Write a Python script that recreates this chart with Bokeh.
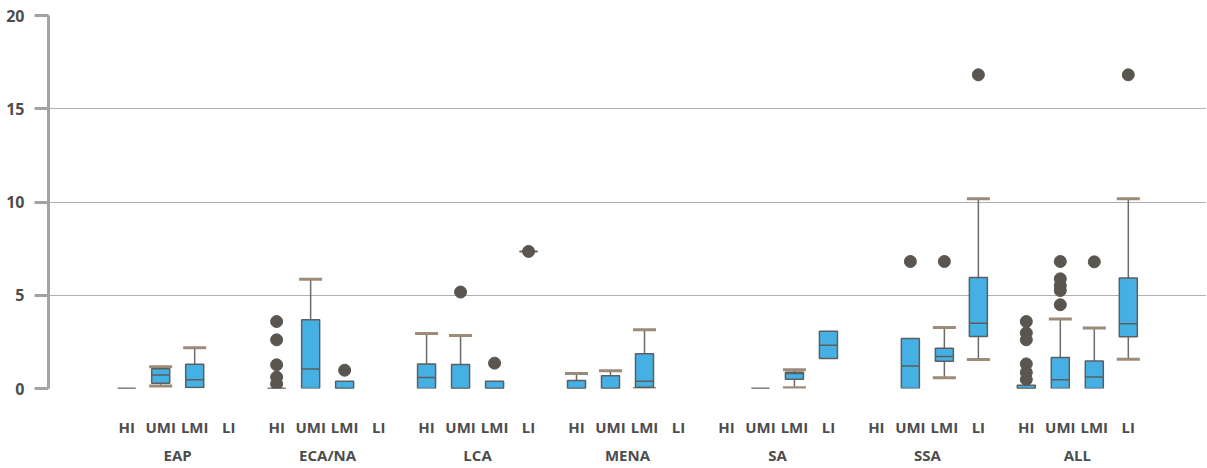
import math
from bokeh.plotting import figure
from bokeh.models import FactorRange, Range1d, FixedTicker, ColumnDataSource
from bokeh.embed import file_html
from bokeh.resources import INLINE

groups = ["EAP", "ECA/NA", "LCA", "MENA", "SA", "SSA", "ALL"]
levels = ["HI", "UMI", "LMI", "LI"]

# box statistics; NaN = no whisker
box_group = ["EAP", "EAP", "EAP",
             "ECA/NA", "ECA/NA", "ECA/NA",
             "LCA", "LCA", "LCA", "LCA",
             "MENA", "MENA", "MENA",
             "SA", "SA", "SA",
             "SSA", "SSA", "SSA",
             "ALL", "ALL", "ALL", "ALL"]
box_level = ["HI", "UMI", "LMI",
             "HI", "UMI", "LMI",
             "HI", "UMI", "LMI", "LI",
             "HI", "UMI", "LMI",
             "UMI", "LMI", "LI",
             "UMI", "LMI", "LI",
             "HI", "UMI", "LMI", "LI"]
q1 = [0, 0.28, 0.05,
      0, 0, 0,
      0, 0, 0, 7.35,
      0, 0, 0.07,
      0, 0.50, 1.61,
      0, 1.46, 2.79,
      0, 0, 0, 2.77]
median = [0, 0.73, 0.47,
          0, 1.04, 0,
          0.59, 0, 0, 7.35,
          0, 0, 0.39,
          0, 0.80, 2.32,
          1.20, 1.72, 3.50,
          0, 0.47, 0.61, 3.47]
q3 = [0, 1.06, 1.30,
      0, 3.68, 0.39,
      1.32, 1.29, 0.39, 7.35,
      0.43, 0.68, 1.86,
      0, 0.87, 3.07,
      2.68, 2.16, 5.95,
      0.18, 1.66, 1.48, 5.93]
whisker_low = [math.nan, 0.14, math.nan,
               math.nan, math.nan, math.nan,
               math.nan, math.nan, math.nan, math.nan,
               math.nan, math.nan, 0.0,
               math.nan, 0.04, math.nan,
               math.nan, 0.57, 1.55,
               math.nan, math.nan, math.nan, 1.57]
whisker_high = [math.nan, 1.16, 2.18,
                math.nan, 5.86, math.nan,
                2.95, 2.84, math.nan, math.nan,
                0.80, 0.95, 3.15,
                math.nan, 1.00, math.nan,
                math.nan, 3.27, 10.17,
                math.nan, 3.72, 3.25, 10.17]

# outliers
out_group = ["ECA/NA"] * 5 + ["ECA/NA", "LCA", "LCA", "LCA", "SSA", "SSA", "SSA"] + ["ALL"] * 6 + ["ALL"] * 5 + ["ALL", "ALL"]
out_level = ["HI"] * 5 + ["LMI", "UMI", "LMI", "LI", "UMI", "LMI", "LI"] + ["HI"] * 6 + ["UMI"] * 5 + ["LMI", "LI"]
out_value = [3.59, 2.61, 1.27, 0.61, 0.25,
             0.98, 5.17, 1.36, 7.35, 6.81, 6.81, 16.82,
             3.59, 2.98, 2.61, 1.32, 0.86, 0.48,
             6.81, 5.88, 5.52, 5.25, 4.49,
             6.79, 16.82]

y_ticks = [0, 5, 10, 15, 20]

FONT = "Open Sans"
TXT = "#4d4d4d"
BOX_FILL = "#45b0e3"
BOX_LINE = "#5e5e5e"
STEM = "#6e6a66"
CAP = "#9c8b78"
DOT = "#5a554f"

factors = [(g, l) for g in groups for l in levels]

p = figure(x_range=FactorRange(factors=factors, group_padding=0.41,
                               range_padding=1.8, range_padding_units="absolute"),
           y_range=Range1d(0, 20),
           frame_width=1158, frame_height=373,
           min_border_left=48, min_border_right=0, min_border_top=15, min_border_bottom=10,
           output_backend="svg", toolbar_location=None)

bx = [(g, l) for g, l in zip(box_group, box_level)]
src = ColumnDataSource(dict(x=bx, q1=q1, q2=median, q3=q3))

# whiskers
hi_x, hi_top, hi_bot = [], [], []
lo_x, lo_top, lo_bot = [], [], []
for xx, a, b, wl, wh in zip(bx, q1, q3, whisker_low, whisker_high):
    if not math.isnan(wh):
        hi_x.append(xx); hi_bot.append(b); hi_top.append(wh)
    if not math.isnan(wl):
        lo_x.append(xx); lo_bot.append(wl); lo_top.append(a)

p.segment(x0=hi_x, y0=hi_bot, x1=hi_x, y1=hi_top, line_color=STEM, line_width=1.5)
p.segment(x0=lo_x, y0=lo_bot, x1=lo_x, y1=lo_top, line_color=STEM, line_width=1.5)
p.scatter(x=hi_x, y=hi_top, marker="dash", size=23, line_color=CAP, line_width=3)
p.scatter(x=lo_x, y=lo_bot, marker="dash", size=23, line_color=CAP, line_width=3)

# boxes
p.vbar(x="x", bottom="q1", top="q3", width=0.53, source=src,
       fill_color=BOX_FILL, line_color=BOX_LINE, line_width=1.5)
p.scatter(x="x", y="q2", marker="dash", size=18, source=src, line_color=BOX_LINE, line_width=1.5)

# outliers
ox = [(g, l) for g, l in zip(out_group, out_level)]
p.scatter(x=ox, y=out_value, marker="circle", size=12, fill_color=DOT, line_color=DOT)

# y axis
p.yaxis.ticker = FixedTicker(ticks=y_ticks)
p.yaxis.axis_line_color = "#a3a3a3"
p.yaxis.axis_line_width = 3
p.yaxis.major_tick_line_color = "#a3a3a3"
p.yaxis.major_tick_line_width = 3
p.yaxis.major_tick_out = 14
p.yaxis.major_tick_in = 0
p.yaxis.minor_tick_line_color = None
p.yaxis.major_label_standoff = 10
p.yaxis.major_label_text_font = FONT
p.yaxis.major_label_text_font_style = "bold"
p.yaxis.major_label_text_font_size = "16px"
p.yaxis.major_label_text_color = TXT

# x axis
p.xaxis.axis_line_color = None
p.xaxis.major_tick_line_color = None
p.xaxis.minor_tick_line_color = None
p.xaxis.major_tick_out = 23
p.xaxis.major_label_standoff = 5
p.xaxis.major_label_text_font = FONT
p.xaxis.major_label_text_font_style = "bold"
p.xaxis.major_label_text_font_size = "15px"
p.xaxis.major_label_text_color = TXT
p.xaxis.group_text_font = FONT
p.xaxis.group_text_font_style = "bold"
p.xaxis.group_text_font_size = "15px"
p.xaxis.group_text_color = TXT
p.xaxis.separator_line_color = None

p.xgrid.visible = False
p.ygrid.grid_line_color = "#b0b0b0"
p.ygrid.grid_line_width = 1
p.outline_line_color = None

open("out.html", "w").write(file_html(p, INLINE))
